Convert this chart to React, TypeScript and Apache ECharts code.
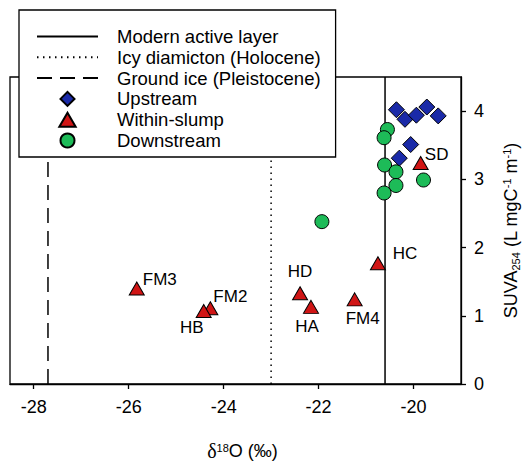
import React, { useEffect, useRef } from "react";
import * as echarts from "echarts";

// Axis ticks
const xTicks = [-28, -26, -24, -22, -20];
const yTicks = [0, 1, 2, 3, 4];
const xMin = -28.5;
const xMax = -19;
const yMin = 0;
const yMax = 4.5;

// Reference lines (delta 18O)
const activeLayerX = -20.6;
const icyDiamictonX = -23.0;
const groundIceX = -27.7;

// Upstream
const upstreamX = [-20.36, -20.18, -19.94, -19.72, -19.48, -20.06, -20.3];
const upstreamY = [4.02, 3.88, 3.94, 4.06, 3.93, 3.51, 3.31];

// Within-slump
const withinNames = ["FM3", "FM2", "HB", "HD", "HA", "FM4", "HC", "SD"];
const withinX = [-25.83, -24.28, -24.42, -22.39, -22.16, -21.24, -20.75, -19.85];
const withinY = [1.4, 1.11, 1.07, 1.33, 1.13, 1.24, 1.77, 3.24];

// Downstream
const downstreamX = [-20.55, -20.62, -20.61, -20.37, -20.37, -20.62, -19.79, -21.93];
const downstreamY = [3.73, 3.61, 3.21, 3.11, 2.91, 2.8, 2.99, 2.38];

// label placement (pixels relative to marker centre)
const labelOffsets: Record<string, number[]> = {
  FM3: [23, -9],
  FM2: [20, -12],
  HB: [-12, 16],
  HD: [0, -22],
  HA: [-4, 20],
  FM4: [8, 19],
  HC: [27, -10],
  SD: [16, -8],
};

const FONT = "Liberation Sans, Arial, sans-serif";
const lineNames = ["Modern active layer", "Icy diamicton (Holocene)", "Ground ice (Pleistocene)"];
const pointNames = ["Upstream", "Within-slump", "Downstream"];
const pointIcons = [
  "path://M0,-1L1,0L0,1L-1,0Z",
  "path://M0,-12L7,0L-7,0Z",
  "circle",
];

export default function App() {
  const ref = useRef<HTMLDivElement>(null);
  useEffect(() => {
    document.body.style.margin = "0";
    if (!ref.current) return;
    const chart = echarts.init(ref.current, undefined, { renderer: "svg" });
    const vline = (x: number) => [
      [x, yMin],
      [x, yMax],
    ];
    const option: any = {
      animation: false,
      backgroundColor: "#fff",
      grid: {
        left: 10,
        right: 66,
        top: 77,
        bottom: 78,
        show: true,
        borderColor: "#000",
        borderWidth: 1.3,
        outerBoundsMode: "none",
      },
      legend: {
        orient: "vertical",
        left: 19,
        top: 10,
        backgroundColor: "#fff",
        borderColor: "#000",
        borderWidth: 1.3,
        padding: [17, 15, 7, 17],
        itemWidth: 61,
        itemHeight: 14,
        itemGap: 1.8,
        symbolKeepAspect: true,
        textStyle: {
          fontFamily: FONT,
          fontSize: 18.5,
          lineHeight: 18,
          color: "#000",
          padding: [0, 0, 0, 14],
        },
        data: [
          ...lineNames.map((n) => ({ name: n, itemStyle: { opacity: 0 } })),
          ...pointNames.map((n, i) => ({ name: n, icon: pointIcons[i] })),
        ],
      },
      xAxis: {
        type: "value",
        min: xMin,
        max: xMax,
        splitLine: { show: false },
        axisLine: { show: true, onZero: false, lineStyle: { color: "#000", width: 1.3 } },
        axisTick: {
          show: true,
          inside: false,
          length: 5,
          customValues: xTicks,
          lineStyle: { color: "#000", width: 1.3 },
        },
        axisLabel: {
          customValues: xTicks,
          margin: 14,
          fontFamily: FONT,
          fontSize: 18,
          color: "#000",
        },
        name: "{d|δ}{sup|18}{n|O (‰)}",
        nameLocation: "middle",
        nameGap: 58,
        nameTextStyle: {
          padding: [0, 0, 0, 14],
          rich: {
            d: { fontFamily: "Liberation Serif, serif", fontSize: 20, color: "#000", lineHeight: 18 },
            sup: { fontFamily: FONT, fontSize: 11, color: "#000", verticalAlign: "top", lineHeight: 10 },
            n: { fontFamily: FONT, fontSize: 18, color: "#000", lineHeight: 18 },
          },
        },
      },
      yAxis: {
        type: "value",
        position: "right",
        min: yMin,
        max: yMax,
        splitLine: { show: false },
        axisLine: { show: true, onZero: false, lineStyle: { color: "#000", width: 1.3 } },
        axisTick: {
          show: true,
          inside: false,
          length: 5,
          customValues: yTicks,
          lineStyle: { color: "#000", width: 1.3 },
        },
        axisLabel: {
          customValues: yTicks,
          margin: 13,
          fontFamily: FONT,
          fontSize: 18,
          color: "#000",
        },
        name: "{n|SUVA}{sub|254}{n| (L mgC}{sup|-1}{n| m}{sup|-1}{n|)}",
        nameLocation: "middle",
        nameRotate: 90,
        nameGap: 40,
        nameTextStyle: {
          rich: {
            n: { fontFamily: FONT, fontSize: 18, color: "#000", lineHeight: 20 },
            sub: { fontFamily: FONT, fontSize: 11, color: "#000", verticalAlign: "bottom", lineHeight: 10 },
            sup: { fontFamily: FONT, fontSize: 11, color: "#000", verticalAlign: "top", lineHeight: 10 },
          },
        },
      },
      series: [
        {
          name: lineNames[0],
          type: "line",
          data: vline(activeLayerX),
          symbol: "none",
          itemStyle: { color: "#000", opacity: 0 },
          lineStyle: { color: "#000", width: 1.5, type: "solid" },
          z: 1,
        },
        {
          name: lineNames[1],
          type: "line",
          data: vline(icyDiamictonX),
          symbol: "none",
          itemStyle: { color: "#000", opacity: 0 },
          lineStyle: { color: "#000", width: 1.5, type: [1.5, 4.5] },
          z: 1,
        },
        {
          name: lineNames[2],
          type: "line",
          data: vline(groundIceX),
          symbol: "none",
          itemStyle: { color: "#000", opacity: 0 },
          lineStyle: { color: "#000", width: 1.5, type: [15, 8] },
          z: 1,
        },
        {
          name: pointNames[0],
          type: "scatter",
          symbol: "diamond",
          symbolSize: 16,
          itemStyle: { color: "#1a2aa8", borderColor: "#000", borderWidth: 1, opacity: 1 },
          data: upstreamX.map((x, i) => [x, upstreamY[i]]),
        },
        {
          name: pointNames[1],
          type: "scatter",
          symbol: "triangle",
          symbolSize: [15, 13],
          itemStyle: { color: "#d01515", borderColor: "#000", borderWidth: 1, opacity: 1 },
          data: withinX.map((x, i) => ({
            name: withinNames[i],
            value: [x, withinY[i]],
            label: { offset: labelOffsets[withinNames[i]] },
          })),
          label: {
            show: true,
            position: "inside",
            formatter: "{b}",
            fontFamily: FONT,
            fontSize: 17,
            color: "#000",
          },
        },
        {
          name: pointNames[2],
          type: "scatter",
          symbol: "circle",
          symbolSize: 14,
          itemStyle: { color: "#1dbb58", borderColor: "#000", borderWidth: 1, opacity: 1 },
          data: downstreamX.map((x, i) => [x, downstreamY[i]]),
        },
      ],
    };
    chart.setOption(option);
    return () => chart.dispose();
  }, []);
  return <div ref={ref} style={{ width: 527, height: 462 }} />;
}
